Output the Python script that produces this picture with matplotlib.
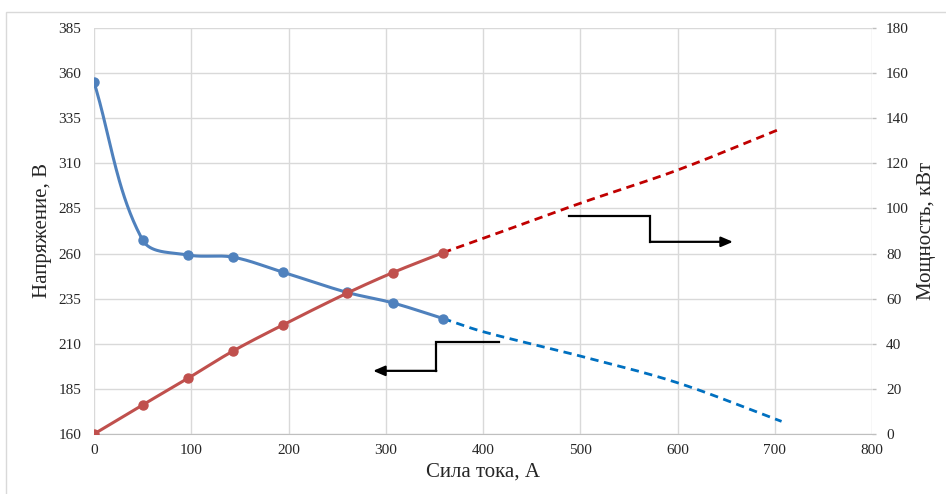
import numpy as np
import matplotlib
matplotlib.use("Agg")
import matplotlib.pyplot as plt
from matplotlib.patches import Rectangle

plt.rcParams['font.family'] = ['Liberation Serif', 'DejaVu Serif']

# Measured load characteristic
current = [0, 50, 97, 143, 194, 260, 307, 359]
voltage = [355, 267.5, 259.2, 258, 249.7, 238.5, 232.7, 224]
power = [0, 12.9, 24.8, 36.8, 48.3, 62.4, 71.5, 80.4]

# Extrapolated continuation
current_ext = [359, 400, 500, 600, 707]
voltage_ext = [224, 216.7, 203.2, 188.4, 167]
power_ext = [80.4, 86.7, 102.3, 117, 135.5]

x_ticks = list(range(0, 801, 100))
v_ticks = list(range(160, 386, 25))
p_ticks = list(range(0, 181, 20))

# Step arrows pointing to the axis each curve belongs to
arrow_v = ([416, 352, 352, 287], [211, 211, 195, 195])
arrow_p = ([488, 572, 572, 657], [96.8, 96.8, 85.2, 85.2])

W, H = 946, 494
L, R, T, B = 94, 872, 28, 434


def smooth(x, y, sx, sy, n=40):
    """Bezier smoothing with chord-length tangents, computed in display
    units (sx, sy = pixels per data unit) so the curve does not overshoot."""
    P = np.column_stack([np.asarray(x, float) * sx, np.asarray(y, float) * sy])
    m = len(P)
    tang = np.zeros_like(P)
    for i in range(m):
        a = P[max(i - 1, 0)]
        b = P[min(i + 1, m - 1)]
        d = b - a
        tang[i] = d / np.hypot(*d)
    out = []
    for i in range(m - 1):
        p1, p2 = P[i], P[i + 1]
        L_ = np.hypot(*(p2 - p1)) / 3
        c1 = p1 + tang[i] * L_
        c2 = p2 - tang[i + 1] * L_
        t = np.linspace(0, 1, n)[:, None]
        out.append(((1 - t) ** 3) * p1 + 3 * ((1 - t) ** 2) * t * c1
                   + 3 * (1 - t) * t ** 2 * c2 + t ** 3 * p2)
    c = np.vstack(out)
    return c[:, 0] / sx, c[:, 1] / sy


fig = plt.figure(figsize=(W / 100, H / 100), dpi=100)
fig.patches.append(Rectangle((6 / W, -0.01), 1.0, 1 - 12 / H + 0.01,
                             transform=fig.transFigure, fill=False,
                             edgecolor='#d9d9d9', lw=1.0))

ax = fig.add_axes([L / W, 1 - B / H, (R - L) / W, (B - T) / H])
ax2 = ax.twinx()

grid_c = '#d9d9d9'
text_c = '#262626'

ax.set_xlim(0, 800)
ax.set_ylim(160, 385)
ax2.set_ylim(0, 180)
ax.set_xticks(x_ticks)
ax.set_yticks(v_ticks)
ax2.set_yticks(p_ticks)
ax.grid(True, color=grid_c, lw=1.0)
ax.set_axisbelow(True)

for a in (ax, ax2):
    for s in a.spines.values():
        s.set_visible(False)
ax.spines['bottom'].set_visible(True)
ax.spines['bottom'].set_color('#bfbfbf')

ax.tick_params(axis='x', length=0, pad=7, labelsize=11, labelcolor=text_c)
ax.tick_params(axis='y', length=0, pad=9, labelsize=11, labelcolor=text_c)
ax2.tick_params(axis='y', length=3, width=1, color='#bfbfbf', pad=7,
                labelsize=11, labelcolor=text_c)

sx = (R - L) / 800
sv = (B - T) / 225
sp = (B - T) / 180

blue = '#4f81bd'
red = '#c0504d'

xs, ys = smooth(current, voltage, sx, sv)
ax.plot(xs, ys, color=blue, lw=2.2, solid_capstyle='round', zorder=3)
ax.plot(current, voltage, 'o', color=blue, ms=6.5, zorder=4)
xs, ys = smooth(current_ext, voltage_ext, sx, sv)
ax.plot(xs, ys, color='#0070c0', lw=2.0, dashes=(3, 2), zorder=3)

xs, ys = smooth(current, power, sx, sp)
ax2.plot(xs, ys, color=red, lw=2.2, solid_capstyle='round', zorder=3)
ax2.plot(current, power, 'o', color=red, ms=6.5, zorder=4)
xs, ys = smooth(current_ext, power_ext, sx, sp)
ax2.plot(xs, ys, color='#c00000', lw=2.0, dashes=(3, 2), zorder=3)

for a, (ax_x, ax_y) in ((ax, arrow_v), (ax2, arrow_p)):
    a.plot(ax_x[:-1], ax_y[:-1], color='black', lw=1.6, solid_joinstyle='miter', zorder=5)
    a.annotate('', xy=(ax_x[-1], ax_y[-1]), xytext=(ax_x[-2], ax_y[-2]),
               arrowprops=dict(arrowstyle='-|>,head_length=0.7,head_width=0.3',
                               color='black', lw=1.6, shrinkA=0, shrinkB=0),
               zorder=5)

ax.set_xlabel('Сила тока, А', fontsize=15, color=text_c, labelpad=4)
ax.set_ylabel('Напряжение, В', fontsize=15, color=text_c, labelpad=5)
ax2.set_ylabel('Мощность, кВт', fontsize=15, color=text_c, labelpad=6)

fig.savefig('out.png', dpi=100)
